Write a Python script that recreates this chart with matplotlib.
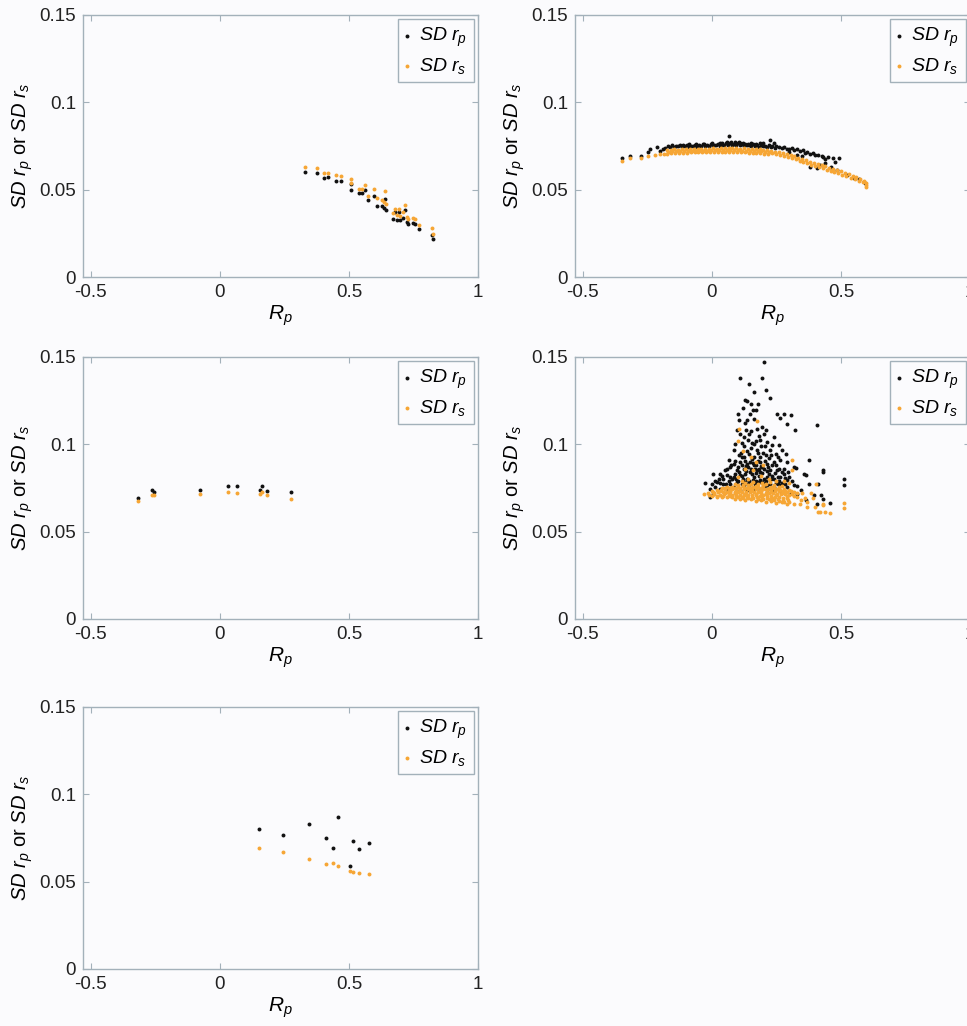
import numpy as np
import matplotlib
matplotlib.use("Agg")
import matplotlib.pyplot as plt
from matplotlib.ticker import FuncFormatter

plt.rcParams['font.family'] = ['Liberation Sans', 'DejaVu Sans']
plt.rcParams['mathtext.fontset'] = 'custom'
plt.rcParams['mathtext.rm'] = 'Liberation Sans'
plt.rcParams['mathtext.it'] = 'Liberation Sans:italic'
plt.rcParams['axes.unicode_minus'] = False

# ---- data: (R_p, SD) pairs ----
p1_rp = [(0.331,0.0602),(0.375,0.0594),(0.403,0.0568),(0.420,0.0571),(0.450,0.0552),(0.468,0.0548),
         (0.510,0.0497),(0.510,0.0530),(0.540,0.0482),(0.549,0.0482),(0.562,0.0497),(0.574,0.0440),
         (0.597,0.0466),(0.607,0.0409),(0.628,0.0405),(0.636,0.0397),(0.640,0.0449),(0.643,0.0386),
         (0.669,0.0332),(0.680,0.0371),(0.687,0.0325),(0.695,0.0371),(0.698,0.0325),(0.711,0.0340),
         (0.718,0.0386),(0.724,0.0315),(0.730,0.0302),(0.749,0.0310),(0.757,0.0306),(0.773,0.0277),
         (0.820,0.0239),(0.827,0.0218)]
p1_rs = [(0.331,0.0632),(0.375,0.0625),(0.403,0.0598),(0.420,0.0598),(0.450,0.0585),(0.468,0.0581),
         (0.510,0.0560),(0.510,0.0540),(0.540,0.0506),(0.549,0.0506),(0.562,0.0529),(0.574,0.0466),
         (0.597,0.0506),(0.607,0.0455),(0.628,0.0440),(0.636,0.0428),(0.640,0.0493),(0.643,0.0417),
         (0.669,0.0367),(0.680,0.0392),(0.687,0.0354),(0.695,0.0392),(0.698,0.0348),(0.711,0.0371),
         (0.718,0.0413),(0.724,0.0344),(0.730,0.0334),(0.749,0.0340),(0.757,0.0332),(0.773,0.0296),
         (0.820,0.0281),(0.827,0.0248)]

p2_rp = [(-0.346,0.0680),(-0.317,0.0695),(-0.275,0.0695),(-0.248,0.0714),(-0.239,0.0733),(-0.213,0.0746),
         (-0.200,0.0723),(-0.188,0.0733),(-0.180,0.0741),
         (-0.170,0.0752),(-0.155,0.0755),(-0.140,0.0750),(-0.125,0.0756),(-0.110,0.0753),(-0.095,0.0758),
         (-0.080,0.0752),(-0.065,0.0757),(-0.050,0.0754),(-0.035,0.0759),(-0.020,0.0755),(-0.005,0.0760),
         (0.010,0.0757),(0.025,0.0762),(0.040,0.0758),(0.055,0.0765),(0.070,0.0770),(0.085,0.0763),
         (0.100,0.0768),(0.115,0.0760),(0.130,0.0764),(0.145,0.0758),(0.160,0.0762),(0.175,0.0755),
         (0.190,0.0758),(0.205,0.0752),(0.220,0.0755),(0.235,0.0748),(0.250,0.0750),
         (-0.162,0.0746),(-0.147,0.0744),(-0.132,0.0748),(-0.117,0.0745),(-0.102,0.0749),(-0.087,0.0746),
         (-0.072,0.0750),(-0.057,0.0747),(-0.042,0.0751),(-0.027,0.0748),(-0.012,0.0752),(0.003,0.0750),
         (0.018,0.0753),(0.033,0.0751),(0.048,0.0756),(0.063,0.0753),(0.078,0.0758),(0.093,0.0755),
         (0.108,0.0757),(0.123,0.0752),(0.138,0.0755),(0.153,0.0750),(0.168,0.0752),(0.183,0.0747),
         (0.198,0.0749),(0.213,0.0744),(0.228,0.0746),(0.243,0.0741),
         (-0.090,0.0762),(-0.060,0.0763),(-0.030,0.0764),(0.000,0.0765),(0.030,0.0767),(0.110,0.0766),
         (0.140,0.0763),(0.170,0.0761),
         (0.040,0.0768),(0.060,0.0772),(0.075,0.0775),(0.090,0.0772),(0.105,0.0774),(0.120,0.0770),
         (0.067,0.0807),(0.150,0.0768),(0.185,0.0766),(0.200,0.0770),
         (0.226,0.0784),(0.240,0.0770),(0.260,0.0745),(0.270,0.0738),(0.280,0.0742),(0.290,0.0735),
         (0.300,0.0730),(0.310,0.0738),(0.320,0.0725),(0.330,0.0732),(0.340,0.0720),(0.355,0.0727),
         (0.360,0.0712),(0.370,0.0718),(0.380,0.0705),(0.390,0.0712),(0.400,0.0700),(0.413,0.0698),
         (0.425,0.0692),(0.430,0.0685),(0.440,0.0675),(0.450,0.0688),(0.471,0.0680),(0.478,0.0660),
         (0.493,0.0680),(0.381,0.0632),(0.407,0.0622),(0.420,0.0640),(0.460,0.0630),(0.484,0.0613),
         (0.523,0.0584),(0.549,0.0565),(0.570,0.0560),(0.594,0.0537),(0.330,0.0700),(0.350,0.0690),
         (0.300,0.0715),(0.440,0.0655)]
p2_rs = [(-0.346,0.0665),(-0.317,0.0680),(-0.275,0.0682),(-0.248,0.0695),(-0.220,0.0700),(-0.200,0.0705),
         (-0.185,0.0703),
         (-0.175,0.0725),(-0.160,0.0728),(-0.145,0.0730),(-0.130,0.0729),(-0.115,0.0732),(-0.100,0.0731),
         (-0.085,0.0733),(-0.070,0.0732),(-0.055,0.0734),(-0.040,0.0733),(-0.025,0.0735),(-0.010,0.0734),
         (0.005,0.0736),(0.020,0.0735),(0.035,0.0737),(0.050,0.0736),(0.065,0.0737),(0.080,0.0736),
         (0.095,0.0737),(0.110,0.0735),(0.125,0.0736),(0.140,0.0734),(0.155,0.0734),(0.170,0.0732),
         (0.185,0.0731),(0.200,0.0729),(0.215,0.0727),
         (-0.168,0.0716),(-0.153,0.0719),(-0.138,0.0720),(-0.123,0.0721),(-0.108,0.0722),(-0.093,0.0722),
         (-0.078,0.0723),(-0.063,0.0723),(-0.048,0.0724),(-0.033,0.0724),(-0.018,0.0724),(-0.003,0.0725),
         (0.012,0.0725),(0.027,0.0725),(0.042,0.0726),(0.057,0.0725),(0.072,0.0726),(0.087,0.0725),
         (0.102,0.0725),(0.117,0.0724),(0.132,0.0724),(0.147,0.0723),(0.162,0.0722),(0.177,0.0721),
         (0.192,0.0720),(0.207,0.0718),(0.222,0.0716),
         (-0.172,0.0706),(-0.157,0.0709),(-0.142,0.0710),(-0.127,0.0711),(-0.112,0.0712),(-0.097,0.0712),
         (-0.082,0.0713),(-0.067,0.0713),(-0.052,0.0714),(-0.037,0.0714),(-0.022,0.0714),(-0.007,0.0714),
         (0.008,0.0715),(0.023,0.0715),(0.038,0.0715),(0.053,0.0714),(0.068,0.0715),(0.083,0.0714),
         (0.098,0.0714),(0.113,0.0713),(0.128,0.0713),(0.143,0.0712),(0.158,0.0711),(0.173,0.0710),
         (0.188,0.0709),(0.203,0.0707),(0.218,0.0705),
         (0.230,0.0722),(0.245,0.0718),(0.260,0.0714),(0.275,0.0709),(0.290,0.0703),(0.305,0.0697),
         (0.320,0.0690),(0.335,0.0683),(0.350,0.0675),(0.365,0.0668),(0.380,0.0661),(0.395,0.0654),
         (0.410,0.0647),(0.425,0.0640),(0.440,0.0633),(0.455,0.0626),(0.470,0.0619),(0.485,0.0612),
         (0.500,0.0605),(0.515,0.0597),(0.530,0.0589),(0.545,0.0580),(0.560,0.0572),(0.575,0.0563),
         (0.590,0.0552),(0.598,0.0540),(0.598,0.0525),
         (0.235,0.0708),(0.250,0.0703),(0.265,0.0698),(0.280,0.0692),(0.295,0.0686),(0.310,0.0680),
         (0.325,0.0673),(0.340,0.0666),(0.355,0.0659),(0.370,0.0651),(0.385,0.0644),(0.400,0.0637),
         (0.415,0.0630),(0.430,0.0622),(0.445,0.0615),(0.460,0.0608),(0.475,0.0601),(0.490,0.0594),
         (0.505,0.0586),(0.520,0.0578),(0.540,0.0568),(0.555,0.0560),(0.570,0.0552),(0.585,0.0545),
         (0.597,0.0515)]

p3_rp = [(-0.315,0.0694),(-0.264,0.0738),(-0.253,0.0726),(-0.078,0.0741),(0.030,0.0762),(0.065,0.0762),
         (0.155,0.0740),(0.165,0.0759),(0.183,0.0732),(0.276,0.0728)]
p3_rs = [(-0.315,0.0673),(-0.264,0.0709),(-0.253,0.0711),(-0.078,0.0718),(0.030,0.0726),(0.065,0.0722),
         (0.155,0.0718),(0.165,0.0726),(0.183,0.0709),(0.276,0.0686)]

p4_rp = [(0.204,0.1471),(0.108,0.1380),(0.195,0.1380),(0.143,0.1343),(0.162,0.1297),(0.208,0.1313),
         (0.227,0.1267),(0.127,0.1255),(0.136,0.1245),(0.152,0.1229),(0.179,0.1229),(0.121,0.1208),
         (0.160,0.1198),(0.173,0.1194),(0.103,0.1175),(0.105,0.1141),(0.253,0.1175),(0.279,0.1175),
         (0.266,0.1152),(0.305,0.1166),(0.290,0.1118),(0.406,0.1112),(0.321,0.1080),
         (0.136,0.1137),(0.162,0.1147),(0.146,0.1175),(0.132,0.1080),(0.152,0.1076),(0.175,0.1090),
         (0.195,0.1099),(0.208,0.1080),(0.201,0.1061),(0.182,0.1046),(0.097,0.1080),(0.108,0.1061),
         (0.123,0.1042),(0.091,0.1004),(0.140,0.1023),(0.162,0.1004),(0.188,0.1023),(0.214,0.1014),
         (0.240,0.1042),(0.234,0.0994),(0.260,0.0994),(0.227,0.0965),(0.247,0.0946),(0.273,0.0965),
         (0.286,0.0946),(0.084,0.0965),(0.104,0.0937),(0.123,0.0927),(0.143,0.0946),(0.162,0.0927),
         (0.188,0.0927),(0.208,0.0937),(0.065,0.0908),(0.084,0.0889),(0.110,0.0898),(0.136,0.0889),
         (0.162,0.0879),(0.188,0.0898),(0.214,0.0889),(0.240,0.0898),(0.266,0.0908),(0.292,0.0898),
         (0.377,0.0908),(0.052,0.0851),(0.071,0.0870),(0.097,0.0851),(0.123,0.0860),(0.149,0.0841),
         (0.175,0.0851),(0.201,0.0860),(0.227,0.0851),(0.253,0.0851),(0.279,0.0860),(0.318,0.0870),
         (0.325,0.0865),(0.357,0.0832),(0.364,0.0822),(0.429,0.0851),(0.432,0.0841),
         (0.006,0.0832),(0.032,0.0832),(0.058,0.0822),(0.084,0.0813),(0.110,0.0822),(0.136,0.0803),
         (0.162,0.0813),(0.188,0.0798),(0.214,0.0813),(0.240,0.0803),(0.266,0.0813),(0.292,0.0794),
         (-0.026,0.0779),(0.000,0.0775),(0.019,0.0784),(0.045,0.0775),(0.071,0.0772),(0.097,0.0784),
         (0.123,0.0765),(0.149,0.0775),(0.175,0.0756),(0.195,0.0784),(0.214,0.0765),(0.240,0.0756),
         (0.266,0.0765),(0.292,0.0756),(0.318,0.0765),(0.377,0.0775),(0.412,0.0772),(0.513,0.0804),
         (0.513,0.0766),(-0.006,0.0746),(0.013,0.0756),(0.032,0.0746),(0.058,0.0740),(0.084,0.0756),
         (0.110,0.0736),(0.136,0.0740),(0.162,0.0746),(0.188,0.0736),(0.214,0.0740),(0.240,0.0736),
         (0.269,0.0727),(0.305,0.0721),(0.331,0.0717),(0.364,0.0679),(0.396,0.0708),(0.422,0.0708),
         (0.429,0.0689),(0.458,0.0666),(0.409,0.0660),(-0.006,0.0698),(0.006,0.0717),
         (0.115,0.0880),(0.128,0.0905),(0.142,0.0870),(0.155,0.0915),(0.170,0.0880),(0.182,0.0860),
         (0.195,0.0870),(0.118,0.0820),(0.131,0.0845),(0.157,0.0830),(0.170,0.0835),(0.183,0.0820),
         (0.196,0.0835),(0.209,0.0790),(0.203,0.0800),(0.199,0.0780),(0.091,0.0830),(0.078,0.0800),
         (0.065,0.0790),(0.145,0.0790),(0.158,0.0795),(0.171,0.0790),(0.222,0.0830),(0.235,0.0820),
         (0.248,0.0780),(0.260,0.0790),(0.273,0.0780),(0.045,0.0800),(0.026,0.0800),(0.112,0.0950),
         (0.138,0.0960),(0.150,0.0980),(0.176,0.0970),(0.200,0.0950),(0.190,0.0990),(0.125,0.0990),
         (0.115,0.1010),(0.170,0.1020),(0.220,0.0920),(0.250,0.0880),(0.280,0.0830),(0.300,0.0810),
         (0.310,0.0790),(0.330,0.0760),(0.345,0.0740),
         (0.060,0.0860),(0.075,0.0880),(0.088,0.0905),(0.100,0.0870),(0.107,0.0840),(0.120,0.0800),
         (0.127,0.0830),(0.134,0.0875),(0.147,0.0900),(0.153,0.0860),(0.160,0.0895),(0.166,0.0860),
         (0.178,0.0905),(0.185,0.0840),(0.190,0.0875),(0.205,0.0905),(0.212,0.0845),(0.218,0.0870),
         (0.228,0.0800),(0.232,0.0880),(0.245,0.0835),(0.255,0.0815),(0.262,0.0860),(0.270,0.0840),
         (0.283,0.0805),(0.295,0.0840),(0.040,0.0820),(0.030,0.0780),(0.055,0.0770),(0.070,0.0815),
         (0.093,0.0800),(0.103,0.0790),(0.116,0.0775),(0.130,0.0785),(0.142,0.0770),(0.168,0.0770),
         (0.183,0.0785),(0.205,0.0760),(0.225,0.0775),(0.255,0.0770),(0.285,0.0775),(0.012,0.0790),
         (0.145,0.1060),(0.130,0.1120),(0.155,0.1010),(0.118,0.0930),(0.180,0.0950),(0.205,0.0990),
         (0.230,0.0940),(0.258,0.0930)]
p4_rs = [(0.090,0.0772),(0.120,0.0768),(0.150,0.0775),(0.180,0.0770),(0.210,0.0772),(0.240,0.0765),
         (0.270,0.0760),
         (0.040,0.0752),(0.060,0.0756),(0.080,0.0758),(0.100,0.0755),(0.120,0.0760),(0.140,0.0756),
         (0.160,0.0758),(0.180,0.0755),(0.200,0.0760),(0.220,0.0752),(0.240,0.0750),(0.260,0.0748),
         (0.280,0.0745),(0.300,0.0740),
         (0.000,0.0732),(0.020,0.0738),(0.035,0.0740),(0.050,0.0742),(0.065,0.0740),(0.080,0.0744),
         (0.095,0.0741),(0.110,0.0745),(0.125,0.0742),(0.140,0.0744),(0.155,0.0740),(0.170,0.0743),
         (0.185,0.0740),(0.200,0.0742),(0.215,0.0738),(0.230,0.0737),(0.245,0.0735),(0.260,0.0733),
         (0.275,0.0730),(0.290,0.0728),(0.310,0.0725),(0.330,0.0720),
         (-0.015,0.0722),(0.005,0.0725),(0.025,0.0726),(0.042,0.0727),(0.058,0.0728),(0.072,0.0726),
         (0.088,0.0729),(0.102,0.0727),(0.118,0.0728),(0.132,0.0726),(0.148,0.0727),(0.162,0.0725),
         (0.178,0.0726),(0.192,0.0723),(0.208,0.0724),(0.222,0.0721),(0.238,0.0720),(0.252,0.0718),
         (0.268,0.0716),(0.282,0.0714),(0.300,0.0710),(0.320,0.0705),
         (-0.030,0.0715),(-0.010,0.0712),(0.010,0.0713),(0.030,0.0712),(0.048,0.0713),(0.065,0.0711),
         (0.080,0.0712),(0.095,0.0710),(0.110,0.0711),(0.125,0.0709),(0.140,0.0710),(0.155,0.0708),
         (0.170,0.0709),(0.185,0.0706),(0.200,0.0707),(0.215,0.0704),(0.230,0.0703),(0.245,0.0700),
         (0.260,0.0698),(0.275,0.0695),(0.290,0.0692),
         (0.000,0.0702),(0.020,0.0700),(0.040,0.0699),(0.060,0.0698),(0.080,0.0697),(0.100,0.0696),
         (0.120,0.0694),(0.140,0.0693),(0.160,0.0690),(0.180,0.0688),(0.200,0.0686),(0.220,0.0684),
         (0.240,0.0680),(0.260,0.0676),(0.280,0.0672),(0.300,0.0668),
         (0.090,0.0685),(0.130,0.0680),(0.170,0.0676),(0.210,0.0670),(0.250,0.0662),(0.290,0.0658),
         (0.320,0.0660),
         (0.010,0.0720),(0.030,0.0733),(0.050,0.0720),(0.070,0.0735),(0.090,0.0720),(0.110,0.0735),
         (0.130,0.0718),(0.150,0.0734),(0.170,0.0717),(0.190,0.0732),(0.210,0.0714),(0.230,0.0728),
         (0.250,0.0710),(0.270,0.0722),(0.290,0.0705),(0.310,0.0715),(0.020,0.0706),(0.045,0.0704),
         (0.070,0.0703),(0.095,0.0702),(0.115,0.0700),(0.135,0.0700),(0.155,0.0698),(0.175,0.0697),
         (0.195,0.0694),(0.215,0.0692),(0.235,0.0690),(0.255,0.0686),(0.275,0.0683),(0.295,0.0680),
         (0.110,0.0688),(0.150,0.0685),(0.190,0.0680),(0.230,0.0675),(0.270,0.0668),(0.050,0.0750),
         (0.070,0.0748),(0.090,0.0750),(0.110,0.0752),(0.130,0.0750),(0.150,0.0748),(0.170,0.0750),
         (0.190,0.0748),(0.210,0.0746),(0.230,0.0744),(0.250,0.0742),(0.100,0.0765),(0.140,0.0765),
         (0.170,0.0762),(0.200,0.0768),(0.230,0.0758),(0.260,0.0755),(0.130,0.0780),(0.160,0.0785),
         (0.195,0.0780),(0.225,0.0785),(0.115,0.0790),(0.265,0.0740),(0.285,0.0735),(0.305,0.0732),
         (0.320,0.0725),
         (0.104,0.1086),(0.175,0.1133),(0.100,0.1020),(0.120,0.0960),(0.150,0.0930),(0.170,0.0900),
         (0.200,0.0880),(0.130,0.0860),(0.160,0.0850),(0.190,0.0820),(0.220,0.0800),(0.140,0.0800),
         (0.100,0.0810),(0.250,0.0790),(0.280,0.0790),(0.309,0.0910),(0.310,0.0850),(0.300,0.0780),
         (0.330,0.0700),(0.345,0.0680),(0.350,0.0720),(0.370,0.0670),(0.370,0.0640),(0.385,0.0720),
         (0.390,0.0690),(0.400,0.0640),(0.405,0.0770),(0.410,0.0615),(0.420,0.0612),(0.430,0.0660),
         (0.432,0.0650),(0.440,0.0612),(0.458,0.0605),(0.513,0.0663),(0.513,0.0636),(0.340,0.0660),
         (0.360,0.0690)]

p5_rp = [(0.152,0.0801),(0.245,0.0769),(0.344,0.0828),(0.413,0.0750),(0.437,0.0691),(0.459,0.0868),
         (0.504,0.0590),(0.517,0.0733),(0.540,0.0687),(0.579,0.0723)]
p5_rs = [(0.152,0.0691),(0.245,0.0670),(0.344,0.0632),(0.413,0.0598),(0.437,0.0609),(0.459,0.0590),
         (0.504,0.0560),(0.517,0.0554),(0.540,0.0548),(0.579,0.0543)]

panels = [(p1_rp, p1_rs), (p2_rp, p2_rs), (p3_rp, p3_rs), (p4_rp, p4_rs), (p5_rp, p5_rs)]

# ---- layout / style ----
bg = '#fbfbfd'
edge = '#a3b1ba'
black = '#111111'
orange = '#f6a635'

lefts = [0.0858, 0.5946]
bottoms = [0.730, 0.3967, 0.0556]
w, h = 0.4085, 0.2554

fig = plt.figure(figsize=(9.67, 10.26), dpi=100, facecolor=bg)
fmt = FuncFormatter(lambda v, p: '%g' % round(v, 3))

for i, (rp, rs) in enumerate(panels):
    ax = fig.add_axes([lefts[i % 2], bottoms[i // 2], w, h], facecolor=bg)
    rp = np.array(rp)
    rs = np.array(rs)
    ax.scatter(rp[:, 0], rp[:, 1], s=8, marker='o', color=black, linewidths=0,
               label=r'$\mathit{SD}\ r_p$', zorder=3)
    ax.scatter(rs[:, 0], rs[:, 1], s=8, marker='o', color=orange, linewidths=0,
               label=r'$\mathit{SD}\ r_s$', zorder=3)
    ax.set_xlim(-0.53, 1)
    ax.set_ylim(0, 0.15)
    ax.set_xticks([-0.5, 0, 0.5, 1])
    ax.set_yticks([0, 0.05, 0.1, 0.15])
    ax.xaxis.set_major_formatter(fmt)
    ax.yaxis.set_major_formatter(fmt)
    ax.tick_params(direction='in', top=True, right=True, length=4, width=0.8,
                   color=edge, labelsize=13.5, labelcolor='#222222', pad=5)
    for sp in ax.spines.values():
        sp.set_color(edge)
        sp.set_linewidth(1.0)
    ax.set_xlabel(r'$R_p$', fontsize=15, labelpad=2)
    ax.set_ylabel(r'$\mathit{SD}\ r_p$ or $\mathit{SD}\ r_s$', fontsize=14.5, labelpad=3)
    leg = ax.legend(loc='upper right', fancybox=False, edgecolor=edge, facecolor=bg,
                    framealpha=1, fontsize=14, handlelength=0.3, handletextpad=0.45,
                    borderaxespad=0.2, labelspacing=0.35, borderpad=0.35, markerscale=1.0)
    leg.get_frame().set_linewidth(1.0)

fig.savefig('out.png', dpi=100, facecolor=bg)
